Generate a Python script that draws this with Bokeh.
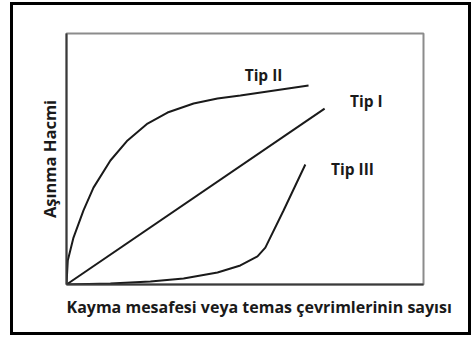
from bokeh.plotting import figure
from bokeh.models import Range1d, FixedTicker, Title
from bokeh.core.properties import value
from bokeh.embed import file_html
from bokeh.resources import INLINE

# data (abstract units, 0..100)
tip1_x = [0.0, 72.3]
tip1_y = [0.0, 70.1]

tip2_x = [0.0, 0.36, 1.96, 4.76, 7.56, 12.3, 17.1, 22.7, 28.3, 35.6, 42.3, 48.7, 67.8]
tip2_y = [0.0, 9.6, 18.7, 29.5, 38.6, 49.4, 57.4, 64.1, 68.5, 72.1, 74.1, 75.3, 79.3]

tip3_x = [0.0, 12.3, 23.5, 32.8, 42.3, 48.7, 53.5, 55.7, 60.8, 66.9]
tip3_y = [0.0, 0.4, 1.2, 2.4, 4.8, 7.6, 11.2, 14.7, 29.5, 47.8]

label_text = ["Tip II", "Tip I", "Tip III"]
label_x = [55.2, 84.0, 80.1]
label_y = [83.3, 73.3, 46.2]

x_title = "Kayma mesafesi veya temas çevrimlerinin sayısı"
y_title = "Aşınma Hacmi"

W, H = 461, 333
p = figure(width=W, height=H, output_backend="svg", toolbar_location=None,
           x_range=Range1d(0, 100), y_range=Range1d(0, 100),
           min_border_left=56, min_border_right=48, min_border_top=31, min_border_bottom=51)
p.border_fill_color = None
p.styles = {"outline": "3px solid black", "outline-offset": "-3px",
            "margin-left": "10px", "margin-top": "2px"}

p.grid.visible = False
p.outline_line_color = "#8c8c8c"
p.outline_line_width = 2

for ax in (p.xaxis[0], p.yaxis[0]):
    ax.ticker = FixedTicker(ticks=[])
    ax.major_tick_line_color = None
    ax.minor_tick_line_color = None
    ax.major_label_standoff = 0
    ax.axis_line_color = "#3a3a3a"
    ax.axis_line_width = 2
    ax.axis_label_text_font = "Open Sans"
    ax.axis_label_text_font_style = "bold"
    ax.axis_label_text_color = "#1a1a1a"

p.yaxis.axis_label = y_title
p.yaxis.axis_label_text_font_size = "16.5px"
p.yaxis.axis_label_standoff = 6

xt = Title(text=x_title, align="left", text_font="Open Sans", text_font_style="bold",
           text_font_size="16px", text_color="#1a1a1a", standoff=18)
p.add_layout(xt, "below")

lc = "#1a1a1a"
p.line(tip1_x, tip1_y, line_color=lc, line_width=2)
p.line(tip2_x, tip2_y, line_color=lc, line_width=2)
p.line(tip3_x, tip3_y, line_color=lc, line_width=2)

p.text(x=label_x, y=label_y, text=label_text, text_font=value("Open Sans"),
       text_font_style="bold", text_font_size="15.5px", text_align="center",
       text_baseline="middle", text_color="#1a1a1a")

open("out.html", "w").write(file_html(p, INLINE))
